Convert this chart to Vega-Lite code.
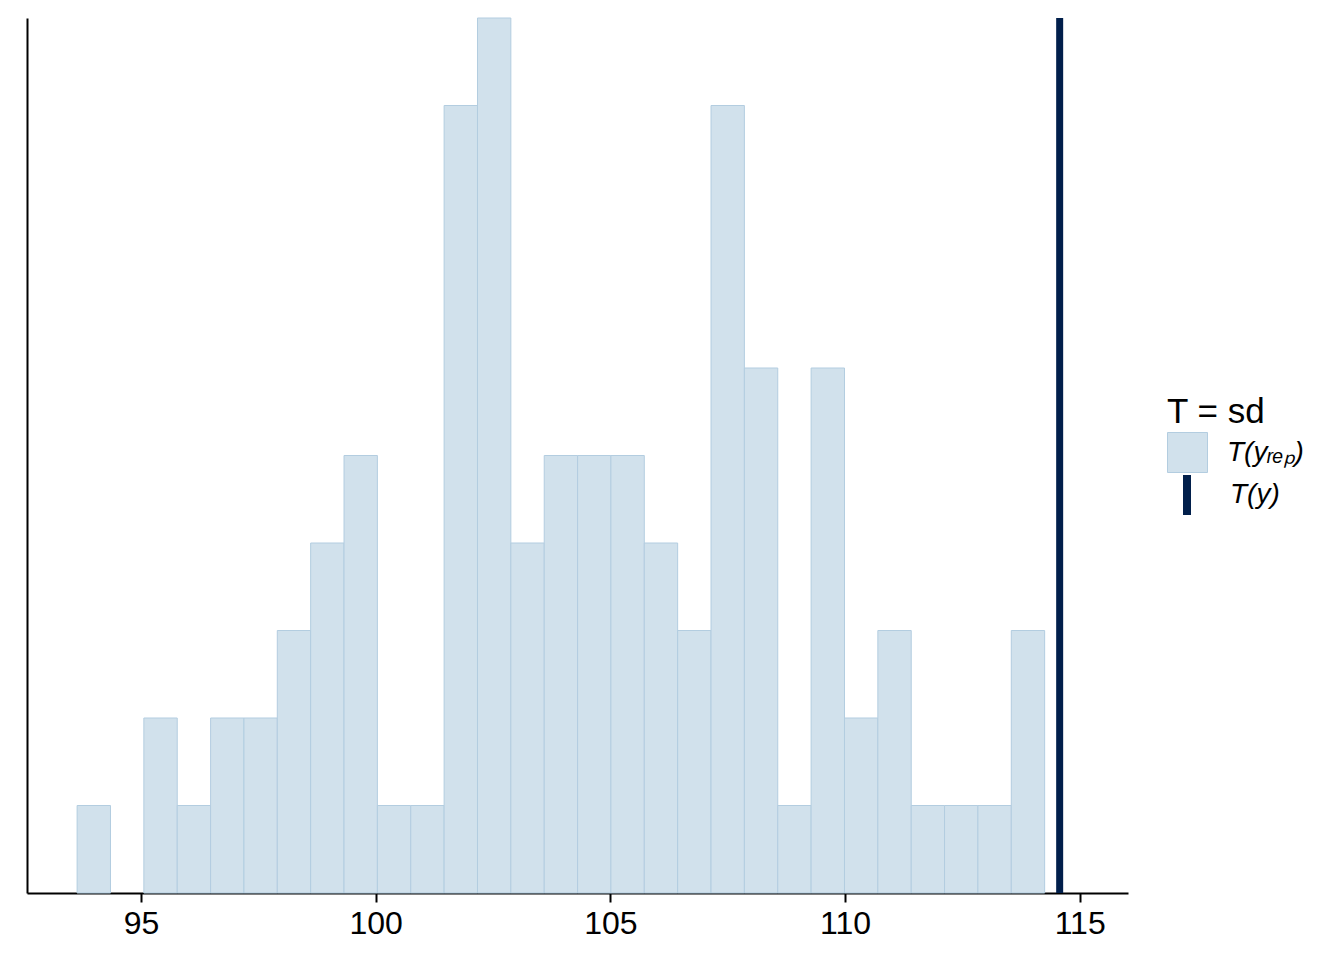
{
  "$schema": "https://vega.github.io/schema/vega-lite/v6.json",
  "width": 1101,
  "height": 875,
  "autosize": {"type": "none"},
  "padding": {"left": 27, "top": 18, "right": 216, "bottom": 67},
  "background": "white",
  "config": {"view": {"stroke": null}, "font": "Liberation Sans"},
  "layer": [
    {
      "data": {
        "values": [
          {"bin_start": 93.638, "bin_end": 94.349, "count": 1, "stat": "T(yᵣₑₚ)"},
          {"bin_start": 95.060, "bin_end": 95.771, "count": 2, "stat": "T(yᵣₑₚ)"},
          {"bin_start": 95.771, "bin_end": 96.482, "count": 1, "stat": "T(yᵣₑₚ)"},
          {"bin_start": 96.482, "bin_end": 97.193, "count": 2, "stat": "T(yᵣₑₚ)"},
          {"bin_start": 97.193, "bin_end": 97.903, "count": 2, "stat": "T(yᵣₑₚ)"},
          {"bin_start": 97.903, "bin_end": 98.614, "count": 3, "stat": "T(yᵣₑₚ)"},
          {"bin_start": 98.614, "bin_end": 99.325, "count": 4, "stat": "T(yᵣₑₚ)"},
          {"bin_start": 99.325, "bin_end": 100.036, "count": 5, "stat": "T(yᵣₑₚ)"},
          {"bin_start": 100.036, "bin_end": 100.747, "count": 1, "stat": "T(yᵣₑₚ)"},
          {"bin_start": 100.747, "bin_end": 101.458, "count": 1, "stat": "T(yᵣₑₚ)"},
          {"bin_start": 101.458, "bin_end": 102.169, "count": 9, "stat": "T(yᵣₑₚ)"},
          {"bin_start": 102.169, "bin_end": 102.880, "count": 10, "stat": "T(yᵣₑₚ)"},
          {"bin_start": 102.880, "bin_end": 103.591, "count": 4, "stat": "T(yᵣₑₚ)"},
          {"bin_start": 103.591, "bin_end": 104.302, "count": 5, "stat": "T(yᵣₑₚ)"},
          {"bin_start": 104.302, "bin_end": 105.012, "count": 5, "stat": "T(yᵣₑₚ)"},
          {"bin_start": 105.012, "bin_end": 105.723, "count": 5, "stat": "T(yᵣₑₚ)"},
          {"bin_start": 105.723, "bin_end": 106.434, "count": 4, "stat": "T(yᵣₑₚ)"},
          {"bin_start": 106.434, "bin_end": 107.145, "count": 3, "stat": "T(yᵣₑₚ)"},
          {"bin_start": 107.145, "bin_end": 107.856, "count": 9, "stat": "T(yᵣₑₚ)"},
          {"bin_start": 107.856, "bin_end": 108.567, "count": 6, "stat": "T(yᵣₑₚ)"},
          {"bin_start": 108.567, "bin_end": 109.278, "count": 1, "stat": "T(yᵣₑₚ)"},
          {"bin_start": 109.278, "bin_end": 109.989, "count": 6, "stat": "T(yᵣₑₚ)"},
          {"bin_start": 109.989, "bin_end": 110.700, "count": 2, "stat": "T(yᵣₑₚ)"},
          {"bin_start": 110.700, "bin_end": 111.411, "count": 3, "stat": "T(yᵣₑₚ)"},
          {"bin_start": 111.411, "bin_end": 112.121, "count": 1, "stat": "T(yᵣₑₚ)"},
          {"bin_start": 112.121, "bin_end": 112.832, "count": 1, "stat": "T(yᵣₑₚ)"},
          {"bin_start": 112.832, "bin_end": 113.543, "count": 1, "stat": "T(yᵣₑₚ)"},
          {"bin_start": 113.543, "bin_end": 114.254, "count": 3, "stat": "T(yᵣₑₚ)"}
        ]
      },
      "mark": {"type": "bar", "stroke": "#b3cde0", "strokeWidth": 1, "orient": "vertical"},
      "encoding": {
        "x": {
          "field": "bin_start",
          "type": "quantitative",
          "scale": {"domain": [92.57, 116.03], "nice": false, "zero": false, "padding": 0},
          "axis": {
            "title": null,
            "values": [95, 100, 105, 110, 115],
            "grid": false,
            "domainColor": "black",
            "domainWidth": 2,
            "tickColor": "black",
            "tickWidth": 2,
            "tickSize": 9,
            "labelFontSize": 32,
            "labelColor": "black",
            "labelFont": "Liberation Sans",
            "labelPadding": 6
          }
        },
        "x2": {"field": "bin_end"},
        "y": {
          "field": "count",
          "type": "quantitative",
          "scale": {"domain": [0, 10], "nice": false, "padding": 0},
          "axis": {
            "title": null,
            "grid": false,
            "ticks": false,
            "labels": false,
            "domainColor": "black",
            "domainWidth": 2
          }
        },
        "y2": {"datum": 0},
        "fill": {
          "field": "stat",
          "type": "nominal",
          "scale": {"domain": ["T(yᵣₑₚ)"], "range": ["#d1e1ec"]},
          "legend": {
            "title": "T = sd",
            "orient": "none",
            "legendX": 1140,
            "legendY": 377,
            "direction": "vertical",
            "titleFont": "Liberation Sans",
            "titleFontSize": 35,
            "titleFontWeight": "normal",
            "titleColor": "black",
            "titlePadding": 2,
            "labelFont": "Liberation Sans",
            "labelFontSize": 28,
            "labelFontStyle": "italic",
            "labelColor": "black",
            "labelOffset": 19,
            "symbolSize": 1600,
            "symbolType": "square",
            "symbolStrokeColor": "#b3cde0",
            "symbolStrokeWidth": 1,
            "symbolOpacity": 1
          }
        }
      }
    },
    {
      "data": {"values": [{"stat": "T(y)", "value": 114.574}]},
      "mark": {"type": "rule", "strokeWidth": 7},
      "encoding": {
        "x": {"field": "value", "type": "quantitative"},
        "stroke": {
          "field": "stat",
          "type": "nominal",
          "scale": {"domain": ["T(y)"], "range": ["#011f4b"]},
          "legend": {
            "title": null,
            "orient": "none",
            "legendX": 1136,
            "legendY": 453,
            "direction": "vertical",
            "labelFont": "Liberation Sans",
            "labelFontSize": 28,
            "labelFontStyle": "italic",
            "labelColor": "black",
            "labelOffset": 19,
            "symbolSize": 1600,
            "symbolType": "M0,-1L0,1",
            "symbolStrokeWidth": 8,
            "symbolOpacity": 1
          }
        }
      }
    }
  ]
}
